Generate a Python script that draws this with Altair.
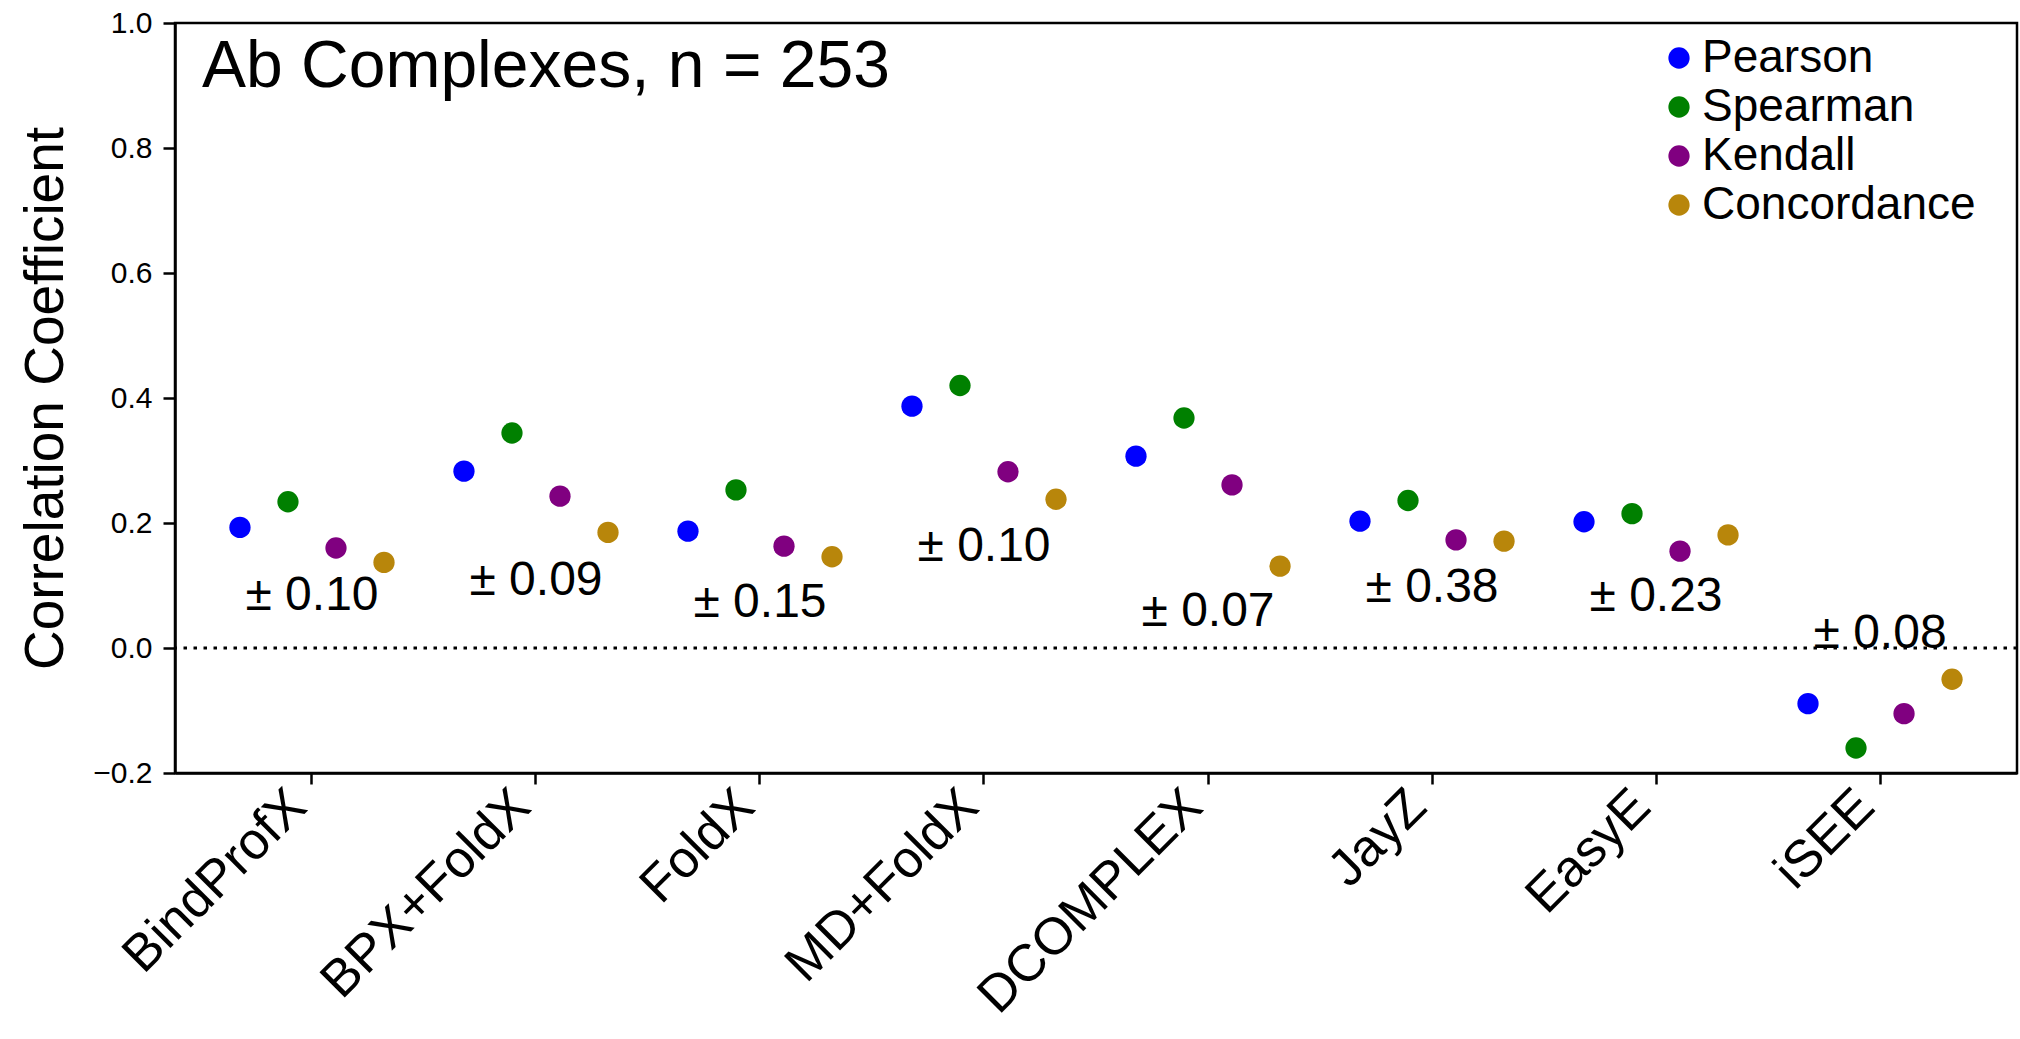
import altair as alt
import pandas as pd

methods = ["BindProfX", "BPX+FoldX", "FoldX", "MD+FoldX", "DCOMPLEX", "JayZ", "EasyE", "iSEE"]
metrics = ["Pearson", "Spearman", "Kendall", "Concordance"]
pearson = [0.193, 0.283, 0.187, 0.387, 0.307, 0.203, 0.202, -0.089]
spearman = [0.234, 0.344, 0.253, 0.420, 0.368, 0.236, 0.215, -0.160]
kendall = [0.160, 0.243, 0.163, 0.282, 0.261, 0.173, 0.155, -0.105]
concordance = [0.137, 0.185, 0.146, 0.238, 0.131, 0.171, 0.181, -0.050]
err_labels = ["± 0.10", "± 0.09", "± 0.15", "± 0.10", "± 0.07", "± 0.38", "± 0.23", "± 0.08"]
err_label_y = [0.083, 0.107, 0.072, 0.162, 0.057, 0.096, 0.081, 0.023]
colors = ["#0000ff", "#008000", "#800080", "#b8860b"]
y_ticks = [-0.2, 0.0, 0.2, 0.4, 0.6, 0.8, 1.0]
title_text = "Ab Complexes, n = 253"
FONT = "Liberation Sans"

rows = []
for series_name, vals in zip(metrics, [pearson, spearman, kendall, concordance]):
    for m, v in zip(methods, vals):
        rows.append({"method": m, "metric": series_name, "value": v})
df = pd.DataFrame(rows)
lab_df = pd.DataFrame({"method": methods, "label": err_labels, "ly": err_label_y})

W, H = 1842, 750
x_scale = alt.Scale(domain=methods, paddingInner=0.357, paddingOuter=0.29)
y_scale = alt.Scale(domain=[-0.2, 1.0], nice=False, zero=False)

x_axis = alt.Axis(
    title=None, labelAngle=-45, labelAlign="right", labelBaseline="top",
    labelFontSize=52, labelFont=FONT, labelColor="black", labelPadding=-4,
    labelOffset=-32, labelLimit=600, tickSize=11, tickWidth=2.5, tickColor="black",
    domainColor="black", domainWidth=2.5,
)
y_axis = alt.Axis(
    title="Correlation Coefficient", values=y_ticks, format=".1f",
    labelFontSize=30, labelFont=FONT, labelColor="black", labelPadding=11,
    tickSize=12, tickWidth=2.5, tickColor="black", domainColor="black", domainWidth=2.5,
    titleFontSize=55, titleFont=FONT, titleFontWeight="normal", titleColor="black",
    titleX=-113, titleY=375, titleBaseline="alphabetic", titleAlign="center",
)

points = alt.Chart(df).mark_circle(size=452, opacity=1).encode(
    x=alt.X("method:N", scale=x_scale, sort=methods, axis=x_axis),
    xOffset=alt.XOffset("metric:N", sort=metrics,
                        scale=alt.Scale(domain=metrics, paddingInner=0, paddingOuter=0)),
    y=alt.Y("value:Q", scale=y_scale, axis=y_axis),
    color=alt.Color("metric:N", sort=metrics,
                    scale=alt.Scale(domain=metrics, range=colors),
                    legend=alt.Legend(
                        title=None, orient="none", legendX=1481, legendY=12,
                        labelFontSize=46, labelFont=FONT, labelColor="black",
                        symbolSize=452, symbolType="circle", symbolStrokeWidth=0,
                        symbolOpacity=1, rowPadding=3, labelOffset=0, padding=0,
                        labelLimit=500,
                    )),
)

zero = alt.Chart(pd.DataFrame({"y": [0.0]})).mark_rule(
    color="black", strokeWidth=3, strokeDash=[3.5, 6.5]
).encode(y=alt.Y("y:Q", scale=y_scale))

labels = alt.Chart(lab_df).mark_text(
    fontSize=48, font=FONT, color="black", align="center", baseline="middle"
).encode(
    x=alt.X("method:N", scale=x_scale, sort=methods),
    y=alt.Y("ly:Q", scale=y_scale),
    text="label:N",
)

title = alt.Chart(pd.DataFrame({"t": [title_text]})).mark_text(
    fontSize=66, font=FONT, color="black", align="left", baseline="alphabetic"
).encode(x=alt.value(27), y=alt.value(64), text="t:N")

chart = alt.layer(zero, points, labels, title).properties(
    width=W, height=H,
    autosize=alt.AutoSizeParams(type="none"),
    padding={"left": 175, "top": 23, "right": 3, "bottom": 266},
).configure_view(stroke="black", strokeWidth=2.5).configure_axis(grid=False)

chart.save("out.html", embed_options={"renderer": "svg", "actions": False})
